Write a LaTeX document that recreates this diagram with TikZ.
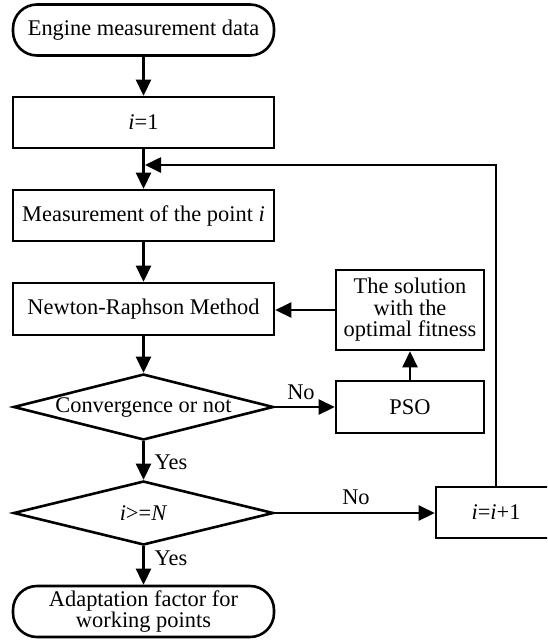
\documentclass[tikz,border=0pt]{standalone}
\usepackage{fontspec}
\setmainfont{Liberation Serif}
\usetikzlibrary{arrows.meta,shapes.geometric}
\begin{document}
\begin{tikzpicture}[x=1pt,y=-1pt, line width=2.6pt,
  every node/.style={font=\fontsize{22.4}{21.5}\selectfont, inner sep=0pt},
  proc/.style={draw, rectangle, minimum width=261pt, minimum height=51pt, align=center},
  term/.style={draw, rectangle, rounded corners=24pt, minimum width=261pt, minimum height=51pt, align=center},
  dec/.style={draw, diamond, minimum width=260pt, minimum height=66pt},
  arr/.style={-{Triangle[length=16pt,width=15pt]}},
  lab/.style={font=\fontsize{22.4}{22}\selectfont}]
\useasboundingbox (0,0) rectangle (547,640);
\clip (0,0) rectangle (547,640);
\node[term] (start) at (143.5,30) {Engine measurement data};
\node[proc] (init) at (143.5,122.5) {\textit{i}=1};
\node[proc] (meas) at (143.5,215.5) {Measurement of the point \textit{i}};
\node[proc, minimum height=52pt] (newton) at (143.5,309) {Newton-Raphson Method};
\node[proc, minimum width=148pt, minimum height=80pt] (sol) at (410,310) {The solution\\with the\\optimal fitness};
\node[dec] (conv) at (143.5,407) {\makebox[0pt]{Convergence or not}};
\node[proc, minimum width=148pt, minimum height=52pt] (pso) at (410,407) {PSO};
\node[dec, minimum height=64pt] (check) at (143.5,513) {\makebox[0pt]{\textit{i}>=\textit{N}}};
\node[proc, minimum width=120pt] (inc) at (496,512.5) {\textit{i}=\textit{i}+1};
\node[term] (end) at (143.5,611.5) {Adaptation factor for\\working points};
\coordinate (join) at (145,165);
\node[lab] (no1) at (301,392) {No};
\node[lab] (yes1) at (171,462) {Yes};
\node[lab] (no2) at (356,497) {No};
\node[lab] (yes2) at (171,558) {Yes};
\draw[arr] (start) -- (init);
\draw[arr] (init) -- (meas);
\draw[arr] (meas) -- (newton);
\draw[arr] (newton) -- (conv);
\draw[arr] (conv) -- (check);
\draw[arr] (check) -- (end);
\draw[arr] (conv.east) -- (pso.west);
\draw[arr] (pso) -- (sol);
\draw[arr] (sol.west) -- (sol.west -| newton.east);
\draw[arr] (check.east) -- (check.east -| inc.west);
\draw[arr] (inc.north) |- (join);
\end{tikzpicture}
\end{document}
